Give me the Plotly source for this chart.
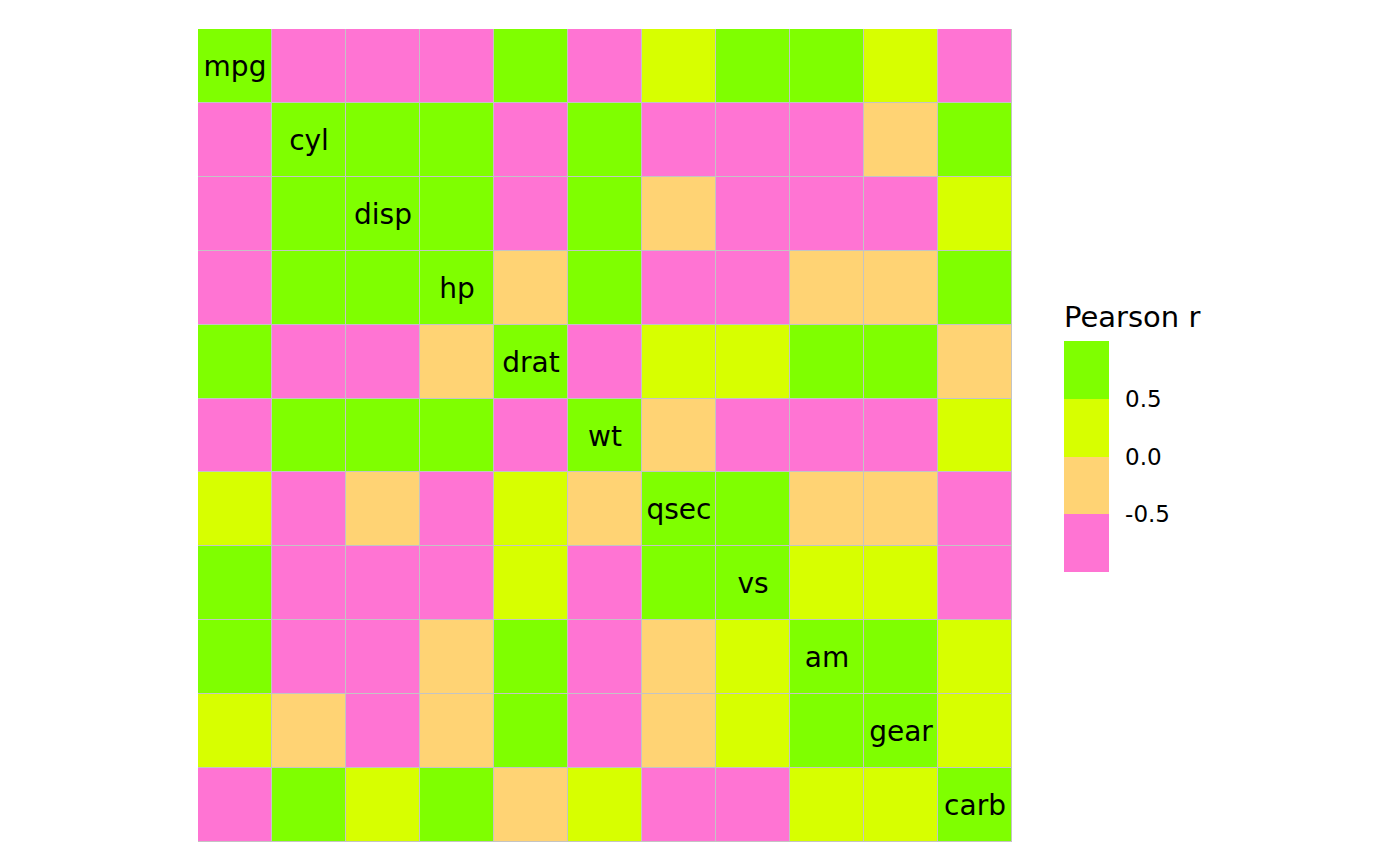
import plotly.graph_objects as go

variables = ["mpg", "cyl", "disp", "hp", "drat", "wt", "qsec", "vs", "am", "gear", "carb"]

# Pearson r by row (read as colour bins from the picture; mtcars correlations)
r_mpg  = [1.00, -0.85, -0.85, -0.78, 0.68, -0.87, 0.42, 0.66, 0.60, 0.48, -0.55]
r_cyl  = [-0.85, 1.00, 0.90, 0.83, -0.70, 0.78, -0.59, -0.81, -0.52, -0.49, 0.53]
r_disp = [-0.85, 0.90, 1.00, 0.79, -0.71, 0.89, -0.43, -0.71, -0.59, -0.56, 0.39]
r_hp   = [-0.78, 0.83, 0.79, 1.00, -0.45, 0.66, -0.71, -0.72, -0.24, -0.13, 0.75]
r_drat = [0.68, -0.70, -0.71, -0.45, 1.00, -0.71, 0.09, 0.44, 0.71, 0.70, -0.09]
r_wt   = [-0.87, 0.78, 0.89, 0.66, -0.71, 1.00, -0.17, -0.55, -0.69, -0.58, 0.43]
r_qsec = [0.42, -0.59, -0.43, -0.71, 0.09, -0.17, 1.00, 0.74, -0.23, -0.21, -0.66]
r_vs   = [0.66, -0.81, -0.71, -0.72, 0.44, -0.55, 0.74, 1.00, 0.17, 0.21, -0.57]
r_am   = [0.60, -0.52, -0.59, -0.24, 0.71, -0.69, -0.23, 0.17, 1.00, 0.79, 0.06]
r_gear = [0.48, -0.49, -0.56, -0.13, 0.70, -0.58, -0.21, 0.21, 0.79, 1.00, 0.27]
r_carb = [-0.55, 0.53, 0.39, 0.75, -0.09, 0.43, -0.66, -0.57, 0.06, 0.27, 1.00]

z = [r_mpg, r_cyl, r_disp, r_hp, r_drat, r_wt, r_qsec, r_vs, r_am, r_gear, r_carb]

tick_vals = [-0.5, 0.0, 0.5]
tick_text = ["-0.5", "0.0", "0.5"]

pink, tan, yellow, green = "#FF74D3", "#FFD374", "#D7FF00", "#7FFF00"
colorscale = [[0.0, pink], [0.25, pink], [0.25, tan], [0.5, tan],
              [0.5, yellow], [0.75, yellow], [0.75, green], [1.0, green]]

labels = [[variables[i] if i == j else "" for j in range(len(variables))]
          for i in range(len(variables))]

W, H = 1400, 865
L, R, T, B = 190, 1004, 21, 834   # page has an 8px body margin

fig = go.Figure(go.Heatmap(
    z=z, x=variables, y=variables,
    zmin=-1, zmax=1, colorscale=colorscale,
    xgap=1, ygap=1,
    text=labels, texttemplate="%{text}",
    textfont=dict(size=28, color="black", family="DejaVu Sans"),
    colorbar=dict(
        title=dict(text="Pearson r", side="top",
                   font=dict(size=29, color="black", family="DejaVu Sans")),
        tickvals=tick_vals, ticktext=tick_text,
        ticks="outside", ticklen=12, tickcolor="rgba(0,0,0,0)",
        tickfont=dict(size=23, color="black", family="DejaVu Sans"),
        thicknessmode="pixels", thickness=45,
        lenmode="pixels", len=270,
        x=1 + (1056 - R) / (R - L), xanchor="left", xpad=0,
        y=(B - 564) / (B - T), yanchor="bottom", ypad=0,
        outlinewidth=0,
    ),
    hoverinfo="skip",
))

fig.update_layout(
    width=W, height=H,
    margin=dict(l=L, r=W - R, t=T, b=H - B, pad=0),
    paper_bgcolor="white", plot_bgcolor="#C4C4C4",
    font=dict(family="DejaVu Sans", color="black"),
    xaxis=dict(showticklabels=False, showgrid=False, zeroline=False, ticks="",
               range=[-0.5, 10.5]),
    yaxis=dict(showticklabels=False, showgrid=False, zeroline=False, ticks="",
               autorange="reversed"),
)

fig.write_html("out.html")
